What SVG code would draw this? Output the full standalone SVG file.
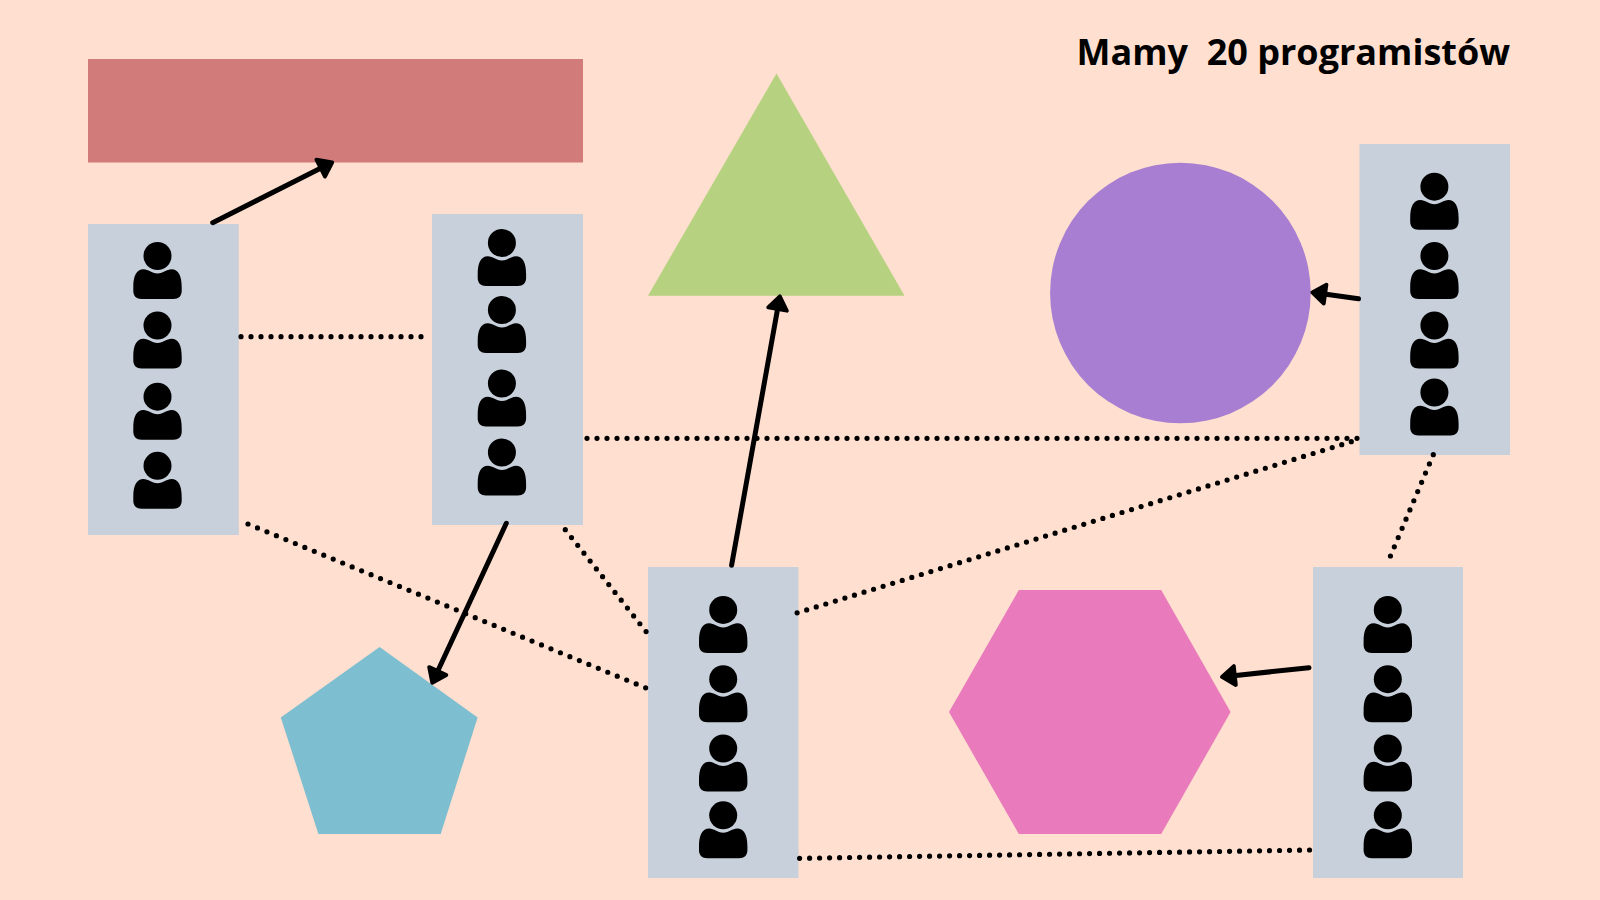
<svg xmlns="http://www.w3.org/2000/svg" width="1600" height="900" viewBox="0 0 1600 900">
  <style>
    .team { fill: #c7d0db; }
    .person { fill: #000; }
    .dot { fill: none; stroke: #000; stroke-width: 5.200; stroke-linecap: round; stroke-dasharray: 0 10; }
    .arrow { fill: none; stroke: #000; stroke-width: 5; stroke-linecap: round; marker-end: url(#head); }
    .title { font-family: "Open Sans", "Noto Sans", sans-serif; font-weight: 700; font-size: 36px; fill: #000; white-space: pre; }
  </style>
  <defs>
    <marker id="head" markerUnits="userSpaceOnUse" viewBox="-2 -12 22 24" markerWidth="22" markerHeight="24" refX="10" refY="0" orient="auto" overflow="visible">
      <path d="M1.800,-9.500 L14.800,0 L1.800,9.500 Z" fill="#000" stroke="#000" stroke-width="3.800" stroke-linejoin="round"/>
    </marker>
    <g id="user" class="person">
      <circle cx="0" cy="0" r="14"/>
      <path d="M-24.200,31 C-24.200,20 -21,13.500 -14,13.300 C-9,13.300 -6,17.500 0,17.500 C6,17.500 9,13.300 14,13.300 C21,13.500 24.200,20 24.200,31 L24.200,35 C24.200,40 21,43 16,43 L-16,43 C-21,43 -24.200,40 -24.200,35 Z"/>
    </g>
  </defs>
  <rect id="background" width="1600" height="900" fill="#ffdfcf"/>

  <g id="node-rectangle"><rect x="88" y="59" width="495" height="103.500" fill="#d17b7b"/></g>
  <g id="node-triangle"><polygon points="776.500,73.500 904.500,295.700 648,295.700" fill="#b6d17f"/></g>
  <g id="node-circle"><circle cx="1180.400" cy="293" r="130.300" fill="#a77ed1"/></g>
  <g id="node-pentagon"><polygon points="379.600,647 477.600,717.400 440.700,834 318.400,834 280.800,717.400" fill="#7dbed1"/></g>
  <g id="node-hexagon"><polygon points="1018.800,590 1161.200,590 1230.600,712 1161.200,834 1018.800,834 949,712" fill="#e97abc"/></g>

  <g id="node-team-1">
    <rect class="team" x="88" y="224" width="150.800" height="311"/>
    <use href="#user" x="157.500" y="256"/><use href="#user" x="157.500" y="325.500"/><use href="#user" x="157.500" y="396.700"/><use href="#user" x="157.500" y="465.800"/>
  </g>
  <g id="node-team-2">
    <rect class="team" x="432" y="214" width="151" height="311"/>
    <use href="#user" x="501.900" y="243"/><use href="#user" x="501.900" y="310"/><use href="#user" x="501.900" y="383.500"/><use href="#user" x="501.900" y="452.500"/>
  </g>
  <g id="node-team-3">
    <rect class="team" x="1359.500" y="144" width="150.500" height="311"/>
    <use href="#user" x="1434.400" y="186.700"/><use href="#user" x="1434.400" y="256"/><use href="#user" x="1434.400" y="325.500"/><use href="#user" x="1434.400" y="392.500"/>
  </g>
  <g id="node-team-4">
    <rect class="team" x="648" y="567" width="150.500" height="311"/>
    <use href="#user" x="723.200" y="609.900"/><use href="#user" x="723.200" y="679.200"/><use href="#user" x="723.200" y="748.500"/><use href="#user" x="723.200" y="815.300"/>
  </g>
  <g id="node-team-5">
    <rect class="team" x="1313" y="567" width="150" height="311"/>
    <use href="#user" x="1387.800" y="609.900"/><use href="#user" x="1387.800" y="679.200"/><use href="#user" x="1387.800" y="748.500"/><use href="#user" x="1387.800" y="815.300"/>
  </g>

  <g id="connectors">
    <line class="dot" x1="241" y1="336.700" x2="423" y2="336.700"/>
    <line class="dot" x1="1357" y1="438.300" x2="584" y2="438.300"/>
    <line class="dot" x1="248" y1="524" x2="646" y2="688" style="stroke-dasharray:0 10.240"/>
    <line class="dot" x1="565.300" y1="529.700" x2="648" y2="634"/>
    <line class="dot" x1="1351.300" y1="441.700" x2="795" y2="613.500"/>
    <line class="dot" x1="1433.300" y1="454.700" x2="1390.300" y2="556.300"/>
    <line class="dot" x1="799.600" y1="858.300" x2="1311" y2="850"/>
    <line class="arrow" x1="212.700" y1="222.700" x2="328" y2="164.500"/>
    <line class="arrow" x1="506.300" y1="523.300" x2="434.300" y2="678.500"/>
    <line class="arrow" x1="731.600" y1="565.300" x2="779" y2="301"/>
    <line class="arrow" x1="1358.500" y1="298.800" x2="1317" y2="293"/>
    <line class="arrow" x1="1309" y1="667.700" x2="1226.700" y2="676.400"/>
  </g>

  <text id="title" class="title" x="1076.500" y="65">Mamy  20 programistów</text>
</svg>
